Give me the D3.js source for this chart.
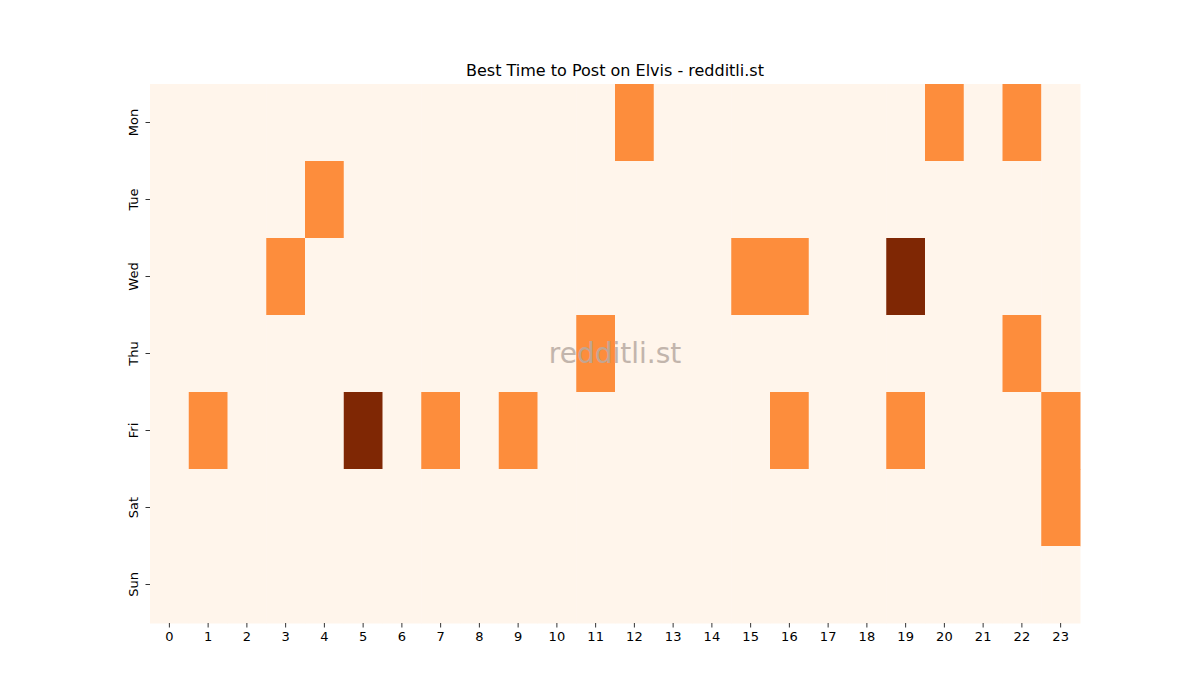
<!DOCTYPE html>
<html>
<head>
<meta charset="utf-8">
<script src="https://cdn.jsdelivr.net/npm/d3@7"></script>
<style>
  body { margin: 0; background: #fff; }
  text { font-family: "DejaVu Sans", sans-serif; }
</style>
</head>
<body>
<svg width="1200" height="700"></svg>
<script>
// chart data
const days = ["Mon", "Tue", "Wed", "Thu", "Fri", "Sat", "Sun"];
const hours = d3.range(24).map(String);
// posting score per day (rows) and hour (columns)
const scores = [
  [0,0,0,0,0,0,0,0,0,0,0,0,1,0,0,0,0,0,0,0,1,0,1,0],
  [0,0,0,0,1,0,0,0,0,0,0,0,0,0,0,0,0,0,0,0,0,0,0,0],
  [0,0,0,1,0,0,0,0,0,0,0,0,0,0,0,1,1,0,0,2,0,0,0,0],
  [0,0,0,0,0,0,0,0,0,0,0,1,0,0,0,0,0,0,0,0,0,0,1,0],
  [0,1,0,0,0,2,0,1,0,1,0,0,0,0,0,0,1,0,0,1,0,0,0,1],
  [0,0,0,0,0,0,0,0,0,0,0,0,0,0,0,0,0,0,0,0,0,0,0,1],
  [0,0,0,0,0,0,0,0,0,0,0,0,0,0,0,0,0,0,0,0,0,0,0,0]
];

const margin = {top: 84, right: 120, bottom: 77, left: 150};
const width = 1200 - margin.left - margin.right,
      height = 700 - margin.top - margin.bottom;

const svg = d3.select("svg");
const g = svg.append("g").attr("transform", `translate(${margin.left},${margin.top})`);

const x = d3.scaleBand().domain(hours).range([0, width]);
const y = d3.scaleBand().domain(days).range([0, height]);
const color = d3.scaleLinear().domain([0, 1, 2]).range(["#fff5eb", "#fd8d3c", "#7f2704"]);

const cells = [];
scores.forEach((row, i) => row.forEach((v, j) => cells.push({day: days[i], hour: hours[j], v})));

g.selectAll("rect").data(cells).join("rect")
  .attr("x", d => x(d.hour))
  .attr("y", d => y(d.day))
  .attr("width", x.bandwidth() + 0.5)
  .attr("height", y.bandwidth() + 0.5)
  .attr("fill", d => color(d.v));

const xAxis = g.append("g").attr("transform", `translate(0,${height})`)
  .call(d3.axisBottom(x).tickSize(4.5).tickPadding(4));
const yAxis = g.append("g")
  .call(d3.axisLeft(y).tickSize(4.5).tickPadding(4));
[xAxis, yAxis].forEach(a => {
  a.select(".domain").remove();
  a.selectAll("text").attr("font-size", 13).attr("fill", "#000").style("font-family", "DejaVu Sans");
  a.selectAll("line").attr("stroke", "#000").attr("stroke-width", 0.8);
});
yAxis.selectAll("text")
  .attr("transform", "rotate(-90)")
  .attr("text-anchor", "middle")
  .attr("x", 0).attr("dx", 0)
  .attr("y", -17).attr("dy", "0.35em");

svg.append("text")
  .attr("x", margin.left + width / 2).attr("y", 76)
  .attr("text-anchor", "middle").attr("font-size", 16)
  .text("Best Time to Post on Elvis - redditli.st");

svg.append("text")
  .attr("x", margin.left + width / 2).attr("y", margin.top + height / 2)
  .attr("text-anchor", "middle").attr("dy", "0.35em")
  .attr("font-size", 28).attr("fill", "#b8aaa2").attr("opacity", 0.85)
  .text("redditli.st");
</script>
</body>
</html>
